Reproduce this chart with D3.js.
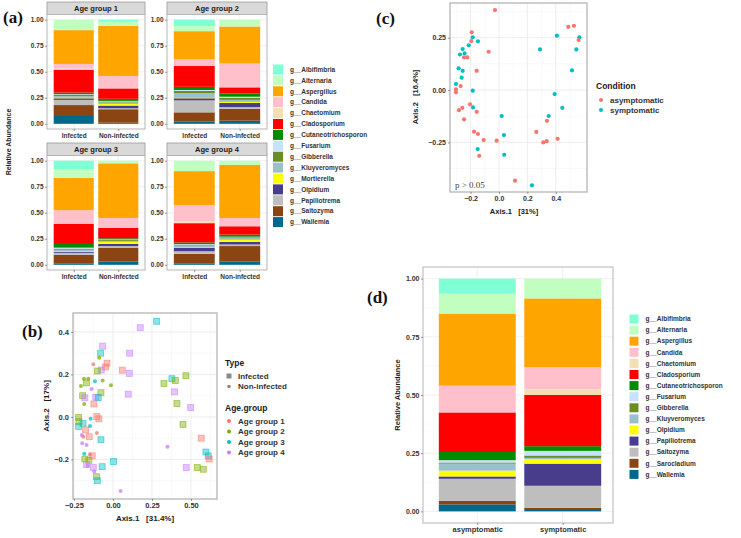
<!DOCTYPE html>
<html>
<head>
<meta charset="utf-8">
<script src="https://cdn.jsdelivr.net/npm/d3@7"></script>
<style>
  body { margin: 0; background: #fff; }
  svg { display: block; }
  text { font-family: "Liberation Sans", Arial, sans-serif; }
</style>
</head>
<body>
<svg id="fig" width="741" height="538"></svg>
<script>
// ---- data ----
const generaA = ["g__Albifimbria", "g__Alternaria", "g__Aspergillus", "g__Candida", "g__Chaetomium",
  "g__Cladosporium", "g__Cutaneotrichosporon", "g__Fusarium", "g__Gibberella", "g__Kluyveromyces",
  "g__Mortierella", "g__Olpidium", "g__Papiliotrema", "g__Saitozyma", "g__Wallemia"];
const generaD = ["g__Albifimbria", "g__Alternaria", "g__Aspergillus", "g__Candida", "g__Chaetomium",
  "g__Cladosporium", "g__Cutaneotrichosporon", "g__Fusarium", "g__Gibberella", "g__Kluyveromyces",
  "g__Olpidium", "g__Papiliotrema", "g__Saitozyma", "g__Sarocladium", "g__Wallemia"];
const palette = ["#7FFFD4", "#C1FFC1", "#FFA500", "#FFC0CB", "#F5DEB3", "#FF0000", "#008B00", "#C6E2FF",
  "#6B8E23", "#9AC0CD", "#FFFF00", "#483D8B", "#BEBEBE", "#8B4513", "#00688B"];

const ageGroups = ["Age group 1", "Age group 2", "Age group 3", "Age group 4"];
const types = ["Infected", "Non-infected"];
// relative abundance per bar, in generaA order
const ag1Inf = [0, 0.10, 0.325, 0.045, 0.01, 0.22, 0.015, 0.005, 0.015, 0.015, 0.005, 0.015, 0.05, 0.105, 0.075];
const ag1Non = [0.02, 0.04, 0.48, 0.12, 0, 0.10, 0.02, 0.005, 0.01, 0.015, 0.015, 0.025, 0.01, 0.13, 0.01];
const ag2Inf = [0.06, 0.05, 0.27, 0.065, 0, 0.20, 0.03, 0.01, 0.02, 0.045, 0.005, 0.02, 0.115, 0.09, 0.02];
const ag2Non = [0, 0.065, 0.355, 0.23, 0, 0.06, 0.03, 0.01, 0.02, 0.02, 0.01, 0.04, 0.015, 0.115, 0.03];
const ag3Inf = [0.08, 0.085, 0.31, 0.13, 0, 0.195, 0.035, 0.01, 0.01, 0.015, 0.005, 0.01, 0.02, 0.085, 0.01];
const ag3Non = [0, 0.025, 0.525, 0.095, 0, 0.10, 0.01, 0.005, 0.01, 0.01, 0.02, 0.02, 0.015, 0.135, 0.03];
const ag4Inf = [0, 0.10, 0.325, 0.155, 0.02, 0.185, 0.015, 0.005, 0.01, 0.015, 0.005, 0.035, 0.025, 0.095, 0.01];
const ag4Non = [0, 0.04, 0.51, 0.08, 0, 0.08, 0.02, 0.005, 0.01, 0.015, 0.02, 0.025, 0.015, 0.15, 0.03];

const conditions = ["asymptomatic", "symptomatic"];
// in generaD order
const asymp = [0.065, 0.085, 0.31, 0.115, 0, 0.17, 0.035, 0.01, 0.005, 0.03, 0.025, 0.01, 0.095, 0.015, 0.03];
const symp = [0, 0.085, 0.295, 0.095, 0.025, 0.22, 0.02, 0.02, 0.01, 0.005, 0.02, 0.095, 0.095, 0.005, 0.01];

const groupColors = ["#F8766D", "#7CAE00", "#00BFC4", "#C77CFF"];
const condColors = ["#F8766D", "#00BFC4"];

// PCoA (b): [Axis.1, Axis.2, age group index, type index (0 Infected, 1 Non-infected)]
const pcoaB = [
  [0.28, 0.45, 2, 0], [0.175, 0.42, 3, 0], [-0.066, 0.333, 3, 0], [-0.079, 0.30, 2, 0], [0.107, 0.30, 3, 0],
  [-0.088, 0.278, 1, 1], [-0.126, 0.248, 0, 1], [-0.038, 0.253, 0, 0], [-0.047, 0.235, 0, 0], [0.06, 0.22, 0, 0],
  [-0.075, 0.221, 3, 0], [-0.10, 0.216, 1, 0], [0.105, 0.205, 3, 0], [-0.186, 0.18, 1, 1], [-0.158, 0.18, 1, 1],
  [-0.17, 0.16, 1, 0], [-0.115, 0.168, 2, 1], [-0.066, 0.171, 1, 1], [-0.205, 0.146, 1, 1], [-0.013, 0.149, 1, 1],
  [-0.137, 0.132, 3, 1], [-0.077, 0.114, 1, 0], [0.098, 0.107, 3, 0], [-0.194, 0.10, 1, 0], [-0.18, 0.09, 3, 0],
  [-0.11, 0.093, 3, 0], [-0.094, 0.091, 2, 0], [-0.184, 0.061, 1, 1], [-0.122, 0.061, 0, 0], [0.327, 0.157, 1, 0],
  [0.378, 0.18, 2, 0], [0.40, 0.171, 1, 0], [0.468, 0.194, 1, 0], [0.395, 0.118, 3, 0], [0.41, 0.063, 1, 0],
  [0.498, 0.044, 3, 0], [-0.22, -0.002, 1, 0], [-0.103, 0.002, 0, 0], [-0.09, -0.009, 0, 0], [-0.143, -0.008, 2, 1],
  [-0.218, -0.022, 1, 0], [-0.192, -0.03, 2, 0], [-0.147, -0.042, 2, 1], [0.449, -0.035, 1, 0], [-0.22, -0.045, 2, 0],
  [-0.175, -0.061, 0, 0], [-0.103, -0.075, 0, 1], [-0.20, -0.085, 3, 1], [-0.19, -0.093, 0, 1], [-0.152, -0.093, 0, 0],
  [-0.077, -0.107, 2, 0], [0.566, -0.10, 0, 0], [-0.197, -0.124, 3, 1], [-0.169, -0.132, 3, 1], [0.35, -0.14, 3, 1],
  [-0.184, -0.173, 2, 1], [-0.147, -0.177, 0, 1], [-0.133, -0.183, 0, 0], [0.596, -0.165, 2, 0], [0.611, -0.183, 2, 0],
  [0.617, -0.198, 0, 0], [-0.18, -0.198, 1, 0], [-0.154, -0.204, 1, 0], [0.004, -0.21, 2, 0], [-0.169, -0.224, 3, 0],
  [-0.163, -0.23, 3, 1], [-0.069, -0.234, 2, 0], [-0.126, -0.238, 3, 0], [0.47, -0.238, 3, 0], [0.54, -0.238, 1, 0],
  [0.579, -0.246, 1, 0], [-0.105, -0.281, 1, 0], [-0.10, -0.30, 2, 0], [0.049, -0.348, 3, 1], [-0.12, -0.257, 3, 1]
];

// PCoA (c): [Axis.1, Axis.2, condition index]
const pcoaC = [
  [-0.028, 0.382, 0], [-0.192, 0.276, 0], [-0.185, 0.252, 1], [-0.195, 0.234, 0], [-0.148, 0.233, 1],
  [-0.213, 0.214, 1], [-0.256, 0.196, 1], [-0.275, 0.17, 1], [-0.242, 0.175, 1], [-0.246, 0.156, 0],
  [-0.223, 0.156, 0], [-0.073, 0.183, 0], [-0.284, 0.104, 1], [-0.256, 0.092, 1], [-0.157, 0.092, 0],
  [-0.263, 0.059, 1], [-0.303, 0.029, 1], [-0.27, 0.019, 0], [-0.303, 0.003, 0], [-0.303, -0.011, 0],
  [-0.185, -0.003, 1], [-0.204, -0.068, 0], [-0.258, -0.085, 0], [-0.282, -0.096, 0], [-0.183, -0.083, 1],
  [-0.157, -0.104, 0], [-0.246, -0.14, 0], [0.019, -0.124, 1], [-0.176, -0.199, 0], [-0.148, -0.21, 0],
  [-0.108, -0.239, 0], [-0.016, -0.242, 0], [0.035, -0.215, 1], [-0.15, -0.282, 1], [-0.139, -0.314, 0],
  [0.037, -0.309, 1], [0.113, -0.433, 0], [0.232, -0.455, 1], [0.289, 0.194, 1], [0.408, 0.26, 1],
  [0.488, 0.302, 0], [0.528, 0.307, 0], [0.566, 0.252, 1], [0.561, 0.239, 0], [0.545, 0.194, 1],
  [0.514, 0.094, 1], [0.392, -0.019, 1], [0.446, -0.085, 1], [0.35, -0.124, 1], [0.338, -0.147, 0],
  [0.263, -0.2, 0], [0.312, -0.25, 0], [0.336, -0.244, 0], [0.413, -0.233, 0]
];

const abundTicks = [0, 0.25, 0.5, 0.75, 1];

// ---- helpers ----
const svg = d3.select('#fig');
const fmt2 = d3.format('.2f');
const INK = '#333333';

function panelLabel(txt, x, y) {
  svg.append('text').attr('x', x).attr('y', y).text(txt)
    .style('font-family', '"Liberation Serif", "Times New Roman", serif')
    .style('font-weight', 'bold').style('font-size', '17px').attr('fill', '#111');
}

function gridLines(g, x, y, xs, ys, xMinor, yMinor) {
  const [x0, x1] = x.range(), [y0, y1] = y.range();
  g.selectAll(null).data(yMinor).enter().append('line')
    .attr('x1', x0).attr('x2', x1).attr('y1', d => y(d)).attr('y2', d => y(d))
    .attr('stroke', '#F3F3F3').attr('stroke-width', 0.5);
  g.selectAll(null).data(xMinor).enter().append('line')
    .attr('y1', y0).attr('y2', y1).attr('x1', d => x(d)).attr('x2', d => x(d))
    .attr('stroke', '#F3F3F3').attr('stroke-width', 0.5);
  g.selectAll(null).data(ys).enter().append('line')
    .attr('x1', x0).attr('x2', x1).attr('y1', d => y(d)).attr('y2', d => y(d))
    .attr('stroke', '#E8E8E8').attr('stroke-width', 0.8);
  g.selectAll(null).data(xs).enter().append('line')
    .attr('y1', y0).attr('y2', y1).attr('x1', d => x(d)).attr('x2', d => x(d))
    .attr('stroke', '#E8E8E8').attr('stroke-width', 0.8);
}

function styleAxis(sel, size) {
  sel.select('.domain').remove();
  sel.selectAll('.tick line').attr('stroke', '#555').attr('stroke-width', 0.6);
  sel.selectAll('.tick text').attr('fill', INK)
    .style('font-size', size + 'px').style('font-weight', 'bold')
    .style('font-family', '"Liberation Sans", Arial, sans-serif');
}

function border(g, x0, y0, x1, y1, w) {
  g.append('rect').attr('x', x0).attr('y', y0).attr('width', x1 - x0).attr('height', y1 - y0)
    .attr('fill', 'none').attr('stroke', '#B5B5B5').attr('stroke-width', w || 1);
}

// stacked bar panel; values in legend order, first legend item ends up on top
function stackPanel(g, box, cats, values, genera, bandRange, tickSize, labelSize, drawLabels) {
  const y = d3.scaleLinear().domain([-0.05, 1.05]).range([box.y1, box.y0]);
  const x = d3.scaleBand().domain(cats).range(bandRange || [box.x0, box.x1])
    .paddingInner(0.1).paddingOuter(0.15);
  const xc = d3.scalePoint().domain(cats).range([x(cats[0]) + x.bandwidth() / 2,
    x(cats[cats.length - 1]) + x.bandwidth() / 2]);

  const rows = cats.map((c, i) => {
    const r = { cat: c };
    genera.forEach((gname, j) => { r[gname] = values[i][j]; });
    return r;
  });
  const keys = genera.slice().reverse();
  const series = d3.stack().keys(keys)(rows);
  const color = d3.scaleOrdinal().domain(genera).range(palette);

  const gridX = d3.scaleLinear().domain([box.x0, box.x1]).range([box.x0, box.x1]);
  g.selectAll(null).data([0.125, 0.375, 0.625, 0.875]).enter().append('line')
    .attr('x1', box.x0).attr('x2', box.x1).attr('y1', d => y(d)).attr('y2', d => y(d))
    .attr('stroke', '#F3F3F3').attr('stroke-width', 0.5);
  g.selectAll(null).data(abundTicks).enter().append('line')
    .attr('x1', box.x0).attr('x2', box.x1).attr('y1', d => y(d)).attr('y2', d => y(d))
    .attr('stroke', '#EAEAEA').attr('stroke-width', 0.7);
  g.selectAll(null).data(cats).enter().append('line')
    .attr('y1', box.y0).attr('y2', box.y1).attr('x1', d => gridX(xc(d))).attr('x2', d => gridX(xc(d)))
    .attr('stroke', '#EAEAEA').attr('stroke-width', 0.7);

  g.selectAll(null).data(series).enter().append('g')
    .attr('fill', d => color(d.key))
    .selectAll('rect').data(d => d).enter().append('rect')
    .attr('x', d => x(d.data.cat)).attr('width', x.bandwidth())
    .attr('y', d => y(d[1])).attr('height', d => Math.max(0, y(d[0]) - y(d[1])));

  border(g, box.x0, box.y0, box.x1, box.y1, 1);

  const ya = g.append('g').attr('transform', `translate(${box.x0},0)`)
    .call(d3.axisLeft(y).tickValues(abundTicks).tickFormat(fmt2).tickSize(2).tickPadding(1.5));
  styleAxis(ya, tickSize);
  if (drawLabels) {
    const xa = g.append('g').attr('transform', `translate(0,${box.y1})`)
      .call(d3.axisBottom(xc).tickSize(2).tickPadding(2));
    styleAxis(xa, labelSize);
  }
}

function legendSwatches(g, names, x, y0, step, key, fontSize) {
  const color = d3.scaleOrdinal().domain(names).range(palette);
  const row = g.selectAll(null).data(names).enter().append('g')
    .attr('transform', (d, i) => `translate(${x},${y0 + i * step})`);
  row.append('rect').attr('x', 0).attr('y', -key / 2).attr('width', key).attr('height', key)
    .attr('fill', d => color(d));
  row.append('text').attr('x', key + 7).attr('y', 0).attr('dy', '0.35em').text(d => d)
    .attr('fill', INK).style('font-size', fontSize + 'px').style('font-weight', 'bold');
}

// ---- (a) faceted stacked bars ----
const gA = svg.append('g');
const colsA = [[47, 145], [167, 267]];
const rowsA = [{ strip: [2, 14.5], panel: [14.5, 129] }, { strip: [143, 155.5], panel: [155.5, 270] }];
const facetValues = [[ag1Inf, ag1Non], [ag2Inf, ag2Non], [ag3Inf, ag3Non], [ag4Inf, ag4Non]];

ageGroups.forEach((ag, i) => {
  const c = colsA[i % 2], r = rowsA[Math.floor(i / 2)];
  gA.append('rect').attr('x', c[0]).attr('y', r.strip[0]).attr('width', c[1] - c[0])
    .attr('height', r.strip[1] - r.strip[0]).attr('fill', '#D9D9D9').attr('stroke', '#9A9A9A').attr('stroke-width', 0.8);
  gA.append('text').attr('x', (c[0] + c[1]) / 2).attr('y', (r.strip[0] + r.strip[1]) / 2).attr('dy', '0.35em')
    .attr('text-anchor', 'middle').text(ag).attr('fill', '#1A1A1A')
    .style('font-size', '7.5px').style('font-weight', 'bold');
  stackPanel(gA, { x0: c[0], x1: c[1], y0: r.panel[0], y1: r.panel[1] }, types, facetValues[i],
    generaA, null, 6.5, 6.5, true);
});
gA.append('text').attr('transform', 'translate(11,142) rotate(-90)').attr('text-anchor', 'middle')
  .text('Relative Abundance').attr('fill', '#1A1A1A').style('font-size', '7px').style('font-weight', 'bold');
legendSwatches(gA, generaA, 273, 69.5, 10.9, 10, 6.5);
panelLabel('(a)', 3, 23);

// ---- (b) PCoA by age group ----
const gB = svg.append('g');
const xB = d3.scaleLinear().domain([-0.256, 0.667]).range([73, 217]);
const yB = d3.scaleLinear().domain([-0.386, 0.489]).range([499, 313]);
gridLines(gB, xB, yB, [-0.25, 0, 0.25, 0.5], [-0.2, 0, 0.2, 0.4], [-0.125, 0.125, 0.375, 0.625], [-0.3, -0.1, 0.1, 0.3]);
gB.selectAll('rect.pt').data(pcoaB.filter(d => d[3] === 0)).enter().append('rect').attr('class', 'pt')
  .attr('x', d => xB(d[0]) - 3).attr('y', d => yB(d[1]) - 3).attr('width', 6).attr('height', 6)
  .attr('fill', d => groupColors[d[2]]).attr('fill-opacity', 0.45)
  .attr('stroke', d => groupColors[d[2]]).attr('stroke-opacity', 0.6).attr('stroke-width', 0.8);
gB.selectAll('circle.pt').data(pcoaB.filter(d => d[3] === 1)).enter().append('circle').attr('class', 'pt')
  .attr('cx', d => xB(d[0])).attr('cy', d => yB(d[1])).attr('r', 2)
  .attr('fill', d => groupColors[d[2]]).attr('fill-opacity', 0.75);
border(gB, 73, 313, 217, 499, 1.3);
styleAxis(gB.append('g').attr('transform', 'translate(0,499)')
  .call(d3.axisBottom(xB).tickValues([-0.25, 0, 0.25, 0.5]).tickFormat(fmt2).tickSize(2).tickPadding(2)), 7.5);
styleAxis(gB.append('g').attr('transform', 'translate(73,0)')
  .call(d3.axisLeft(yB).tickValues([-0.2, 0, 0.2, 0.4]).tickFormat(d3.format('.1f')).tickSize(2).tickPadding(2)), 7.5);
gB.append('text').attr('x', 145).attr('y', 521).attr('text-anchor', 'middle').attr('xml:space', 'preserve')
  .text('Axis.1   [31.4%]').attr('fill', '#1A1A1A').style('font-size', '8px').style('font-weight', 'bold');
gB.append('text').attr('transform', 'translate(49,406) rotate(-90)').attr('text-anchor', 'middle')
  .attr('xml:space', 'preserve').text('Axis.2   [17%]').attr('fill', '#1A1A1A')
  .style('font-size', '8px').style('font-weight', 'bold');
// legend (b)
gB.append('text').attr('x', 225).attr('y', 366).text('Type').attr('fill', '#1A1A1A')
  .style('font-size', '8.5px').style('font-weight', 'bold');
types.forEach((t, i) => {
  const yy = 376 + i * 10.5;
  if (i === 0) {
    gB.append('rect').attr('x', 226.5).attr('y', yy - 2.5).attr('width', 5).attr('height', 5).attr('fill', '#8A8A8A');
  } else {
    gB.append('circle').attr('cx', 229).attr('cy', yy).attr('r', 1.8).attr('fill', '#8A8A8A');
  }
  gB.append('text').attr('x', 238).attr('y', yy).attr('dy', '0.35em').text(t).attr('fill', INK)
    .style('font-size', '8px').style('font-weight', 'bold');
});
gB.append('text').attr('x', 225).attr('y', 411).text('Age.group').attr('fill', '#1A1A1A')
  .style('font-size', '8.5px').style('font-weight', 'bold');
ageGroups.forEach((a, i) => {
  const yy = 421 + i * 10.5;
  gB.append('circle').attr('cx', 229).attr('cy', yy).attr('r', 2).attr('fill', groupColors[i]);
  gB.append('text').attr('x', 238).attr('y', yy).attr('dy', '0.35em').text(a).attr('fill', INK)
    .style('font-size', '8px').style('font-weight', 'bold');
});
panelLabel('(b)', 22, 337);

// ---- (c) PCoA by condition ----
const gC = svg.append('g');
const xC = d3.scaleLinear().domain([-0.345, 0.620]).range([450, 587]);
const yC = d3.scaleLinear().domain([-0.487, 0.416]).range([192, 3]);
gridLines(gC, xC, yC, [-0.2, 0, 0.2, 0.4], [-0.25, 0, 0.25], [-0.3, -0.1, 0.1, 0.3, 0.5], [-0.375, -0.125, 0.125, 0.375]);
gC.selectAll('circle.pt').data(pcoaC).enter().append('circle').attr('class', 'pt')
  .attr('cx', d => xC(d[0])).attr('cy', d => yC(d[1])).attr('r', 2.1)
  .attr('fill', d => condColors[d[2]]);
border(gC, 450, 3, 587, 192, 1.3);
styleAxis(gC.append('g').attr('transform', 'translate(0,192)')
  .call(d3.axisBottom(xC).tickValues([-0.2, 0, 0.2, 0.4]).tickFormat(d3.format('.1f')).tickSize(2).tickPadding(2)), 7);
styleAxis(gC.append('g').attr('transform', 'translate(450,0)')
  .call(d3.axisLeft(yC).tickValues([-0.25, 0, 0.25]).tickFormat(fmt2).tickSize(2).tickPadding(2)), 7);
gC.append('text').attr('x', 455).attr('y', 188).text('p > 0.05').attr('fill', '#444')
  .style('font-family', '"Liberation Serif", "Times New Roman", serif').style('font-size', '9px');
gC.append('text').attr('x', 514).attr('y', 214).attr('text-anchor', 'middle').attr('xml:space', 'preserve')
  .text('Axis.1   [31%]').attr('fill', '#1A1A1A').style('font-size', '7.5px').style('font-weight', 'bold');
gC.append('text').attr('transform', 'translate(418,97) rotate(-90)').attr('text-anchor', 'middle')
  .attr('xml:space', 'preserve').text('Axis.2   [16.4%]').attr('fill', '#1A1A1A')
  .style('font-size', '7.5px').style('font-weight', 'bold');
gC.append('text').attr('x', 596).attr('y', 89).text('Condition').attr('fill', '#1A1A1A')
  .style('font-size', '8.5px').style('font-weight', 'bold');
conditions.forEach((c, i) => {
  const yy = 100 + i * 10;
  gC.append('circle').attr('cx', 601).attr('cy', yy).attr('r', 2).attr('fill', condColors[i]);
  gC.append('text').attr('x', 610).attr('y', yy).attr('dy', '0.35em').text(c).attr('fill', INK)
    .style('font-size', '8px').style('font-weight', 'bold');
});
panelLabel('(c)', 376, 24);

// ---- (d) stacked bars by condition ----
const gD = svg.append('g');
stackPanel(gD, { x0: 423, x1: 613, y0: 267, y1: 523 }, conditions, [asymp, symp], generaD,
  [426, 614], 7, 7.5, true);
gD.append('text').attr('transform', 'translate(400,395) rotate(-90)').attr('text-anchor', 'middle')
  .text('Relative Abundance').attr('fill', '#1A1A1A').style('font-size', '7.5px').style('font-weight', 'bold');
legendSwatches(gD, generaD, 629.5, 319, 11.1, 9, 6.5);
panelLabel('(d)', 367, 303);
</script>
</body>
</html>
